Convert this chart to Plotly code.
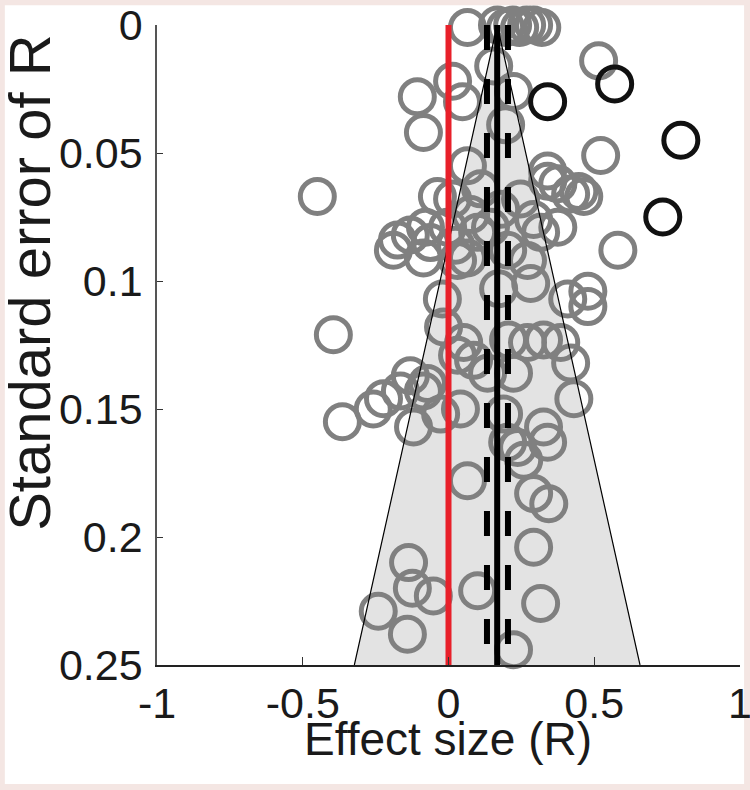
import plotly.graph_objects as go

# ---------------- data ----------------
effect = [0.065, 0.168, 0.196, 0.220, 0.244, 0.268, 0.292, 0.320,
          0.155, 0.014, -0.107, 0.048, -0.086, 0.223, 0.515, 0.522, 0.196,
          0.065, 0.110, -0.038, 0.014, -0.450, 0.247, 0.340, 0.375, 0.419, 0.447,
          0.464, 0.292, 0.316, 0.203, 0.271, 0.065, 0.100, -0.062, -0.175, -0.189,
          -0.131, -0.079, -0.003, 0.144, 0.375, 0.581, 0.340, -0.086, 0.031, 0.076,
          0.179, 0.024,
          -0.021, 0.172, 0.282, 0.409, 0.478, 0.478, -0.017, 0.052, 0.086, 0.134,
          0.206, 0.271, 0.385, 0.419, 0.430, 0.223, -0.395, -0.131, -0.223, -0.258,
          -0.364, -0.165, -0.086, -0.120, -0.027, 0.041, 0.031, 0.189, 0.326, 0.237,
          0.258, 0.203, 0.340, 0.065, -0.072, 0.326,
          0.292, 0.344, 0.292, 0.316, 0.100, 0.223, -0.137, -0.124, -0.052, -0.241, -0.141]
std_err = [0.001, 0.0, 0.001, 0.0, 0.001, 0.0, 0.0, 0.001,
           0.016, 0.022, 0.028, 0.030, 0.042, 0.026, 0.014, 0.051, 0.039,
           0.055, 0.064, 0.067, 0.068, 0.067, 0.068, 0.057, 0.062, 0.066, 0.065,
           0.067, 0.076, 0.081, 0.088, 0.092, 0.091, 0.081, 0.085, 0.084, 0.088,
           0.082, 0.079, 0.079, 0.079, 0.079, 0.088, 0.061, 0.091, 0.092, 0.074,
           0.072, 0.086,
           0.107, 0.103, 0.101, 0.107, 0.110, 0.104, 0.118, 0.124, 0.131, 0.136,
           0.123, 0.124, 0.124, 0.132, 0.146, 0.136, 0.121, 0.137, 0.146, 0.150,
           0.155, 0.143, 0.143, 0.157, 0.152, 0.150, 0.129, 0.152, 0.157, 0.165,
           0.170, 0.163, 0.163, 0.178, 0.140, 0.123,
           0.183, 0.187, 0.204, 0.226, 0.221, 0.244, 0.210, 0.220, 0.223, 0.229, 0.238]

outlier_effect = [0.340, 0.570, 0.797, 0.735]
outlier_se = [0.030, 0.023, 0.045, 0.075]

pooled = 0.167
ci_low = 0.132
ci_high = 0.204
se_max = 0.25
z_crit = 1.96

x_ticks = [-1, -0.5, 0, 0.5, 1]
x_ticktext = ["-1", "-0.5", "0", "0.5", "1"]
y_ticks = [0, 0.05, 0.1, 0.15, 0.2, 0.25]
y_ticktext = ["0", "0.05", "0.1", "0.15", "0.2", "0.25"]

# ---------------- figure ----------------
funnel_x = [pooled - z_crit * se_max, pooled, pooled + z_crit * se_max]
funnel_y = [se_max, 0, se_max]

fig = go.Figure()

fig.add_trace(go.Scatter(x=funnel_x + [funnel_x[0]], y=funnel_y + [funnel_y[0]],
                         mode="lines", fill="toself", fillcolor="#e3e3e3",
                         line=dict(width=0), hoverinfo="skip", showlegend=False))

fig.add_trace(go.Scatter(x=effect, y=std_err, mode="markers", cliponaxis=False,
                         marker=dict(symbol="circle-open", size=34, color="#808080",
                                     line=dict(width=5, color="#808080")),
                         showlegend=False))

# funnel edges
fig.add_trace(go.Scatter(x=funnel_x, y=funnel_y, mode="lines",
                         line=dict(color="black", width=1.2), showlegend=False,
                         hoverinfo="skip"))

# zero line
fig.add_trace(go.Scatter(x=[0, 0], y=[0, se_max], mode="lines",
                         line=dict(color="#e8202a", width=6), showlegend=False))
# CI dashed lines
for cx in (ci_low, ci_high):
    fig.add_trace(go.Scatter(x=[cx, cx], y=[0, se_max], mode="lines",
                             line=dict(color="black", width=6, dash="25px,29px"),
                             showlegend=False))
# pooled estimate
fig.add_trace(go.Scatter(x=[pooled, pooled], y=[0, se_max], mode="lines",
                         line=dict(color="black", width=6), showlegend=False))

fig.add_trace(go.Scatter(x=outlier_effect, y=outlier_se, mode="markers", cliponaxis=False,
                         marker=dict(symbol="circle-open", size=34, color="#111111",
                                     line=dict(width=5, color="#111111")),
                         showlegend=False))

tick_font = dict(family="Liberation Sans, Arial", size=43, color="#1a1a1a")

fig.update_layout(
    width=750, height=790,
    margin=dict(l=157, r=10, t=25, b=125),
    paper_bgcolor="#f4e6e3",
    plot_bgcolor="white",
    xaxis=dict(range=[-1, 1], autorange=False, tickvals=x_ticks, ticktext=x_ticktext,
               ticks="inside", ticklen=8, tickwidth=1.2, tickcolor="#333",
               showline=True, linecolor="#222", linewidth=1.5, showgrid=False,
               zeroline=False, tickfont=tick_font, ticklabelstandoff=0,
               ticklabeloverflow="allow", automargin=False),
    yaxis=dict(range=[0.25, 0], autorange=False, tickvals=y_ticks, ticktext=y_ticktext,
               ticks="inside", ticklen=6, tickwidth=1.2, tickcolor="#333",
               showline=True, linecolor="#555", linewidth=1.5, showgrid=False,
               zeroline=False, tickfont=tick_font, ticklabelstandoff=4,
               ticklabeloverflow="allow", automargin=False),
    shapes=[dict(type="rect", xref="paper", yref="paper",
                 x0=-0.261, x1=1.007, y0=-0.186, y1=1.031,
                 fillcolor="white", line=dict(width=0), layer="below")],
    annotations=[
        dict(text="Effect size (R)", xref="paper", yref="paper", x=0.499, y=-0.116,
             xanchor="center", yanchor="middle", showarrow=False,
             font=dict(family="Liberation Sans, Arial", size=46, color="#1a1a1a")),
        dict(text="Standard error of R", xref="paper", yref="paper", x=-0.218, y=0.597,
             xanchor="center", yanchor="middle", textangle=-90, showarrow=False,
             font=dict(family="Liberation Sans, Arial", size=58, color="#1a1a1a")),
    ],
)

fig.write_html("out.html", config={"displayModeBar": False},
               post_script="document.body.style.margin='0px';document.body.style.overflow='hidden';")
